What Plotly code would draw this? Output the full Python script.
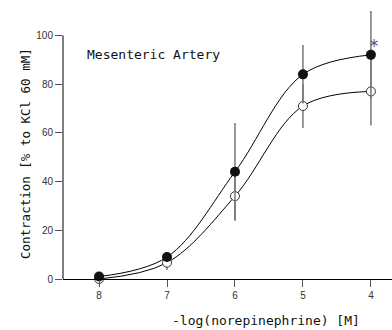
import plotly.graph_objects as go

log_conc = [8, 7, 6, 5, 4]
filled_vals = [1, 9, 44, 84, 92]
filled_err = [1.5, 2, 20, 12, 18]
open_vals = [0, 6.7, 34, 71, 77]
open_err = [1, 3, 10, 9, 14]
y_ticks = [0, 20, 40, 60, 80, 100]
x_ticks = [8, 7, 6, 5, 4]
y_axis_top = 100

mono = "DejaVu Sans Mono"
fig = go.Figure()

fig.add_trace(go.Scatter(
    x=log_conc, y=open_vals, mode="lines+markers",
    line=dict(color="black", width=1, shape="spline", smoothing=1.0),
    marker=dict(symbol="circle", size=9, color="white", line=dict(color="#333", width=1)),
    error_y=dict(type="data", array=open_err, color="#777", thickness=1.5, width=0),
    cliponaxis=False, showlegend=False))

fig.add_trace(go.Scatter(
    x=log_conc, y=filled_vals, mode="lines+markers",
    line=dict(color="black", width=1, shape="spline", smoothing=1.0),
    marker=dict(symbol="circle", size=10, color="#111"),
    error_y=dict(type="data", array=filled_err, color="#777", thickness=1.5, width=0),
    cliponaxis=False, showlegend=False))

fig.add_shape(type="line", xref="paper", yref="y", x0=0, x1=0, y0=0, y1=y_axis_top,
              line=dict(color="black", width=1))

fig.update_layout(
    width=392, height=330,
    margin=dict(l=63, r=0, t=11, b=51),
    paper_bgcolor="white", plot_bgcolor="white",
    xaxis=dict(range=[8.53, 3.69], tickvals=x_ticks, ticks="outside", ticklen=7,
               tickcolor="#555", showline=True, linecolor="black", linewidth=1,
               showgrid=False, zeroline=False,
               tickfont=dict(family="Liberation Sans", size=10, color="#333")),
    yaxis=dict(range=[0, 110], tickvals=y_ticks, ticks="outside", ticklen=7,
               tickcolor="#555", showline=False,
               showgrid=False, zeroline=False,
               tickfont=dict(family="Liberation Sans", size=10, color="#333")),
    annotations=[
        dict(x=8.21, y=92.2, xref="x", yref="y", text="Mesenteric Artery",
             showarrow=False, xanchor="left", yanchor="middle",
             font=dict(family=mono, size=13, color="#111")),
        dict(x=4, y=95.5, xref="x", yref="y", text="*", xshift=3,
             showarrow=False, xanchor="center", yanchor="middle",
             font=dict(family=mono, size=17, color="#555")),
        dict(x=0.617, y=-0.1567, xref="paper", yref="paper",
             text="-log(norepinephrine) [M]", showarrow=False,
             xanchor="center", yanchor="middle",
             font=dict(family=mono, size=13, color="#111")),
        dict(x=-0.1155, y=0.4664, xref="paper", yref="paper",
             text="Contraction [% to KCl 60 mM]", showarrow=False, textangle=-90,
             xanchor="center", yanchor="middle",
             font=dict(family=mono, size=12.5, color="#111")),
    ],
)

fig.write_html("out.html", config={"displayModeBar": False},
               post_script="document.body.style.margin='0';document.body.style.padding='0';")
